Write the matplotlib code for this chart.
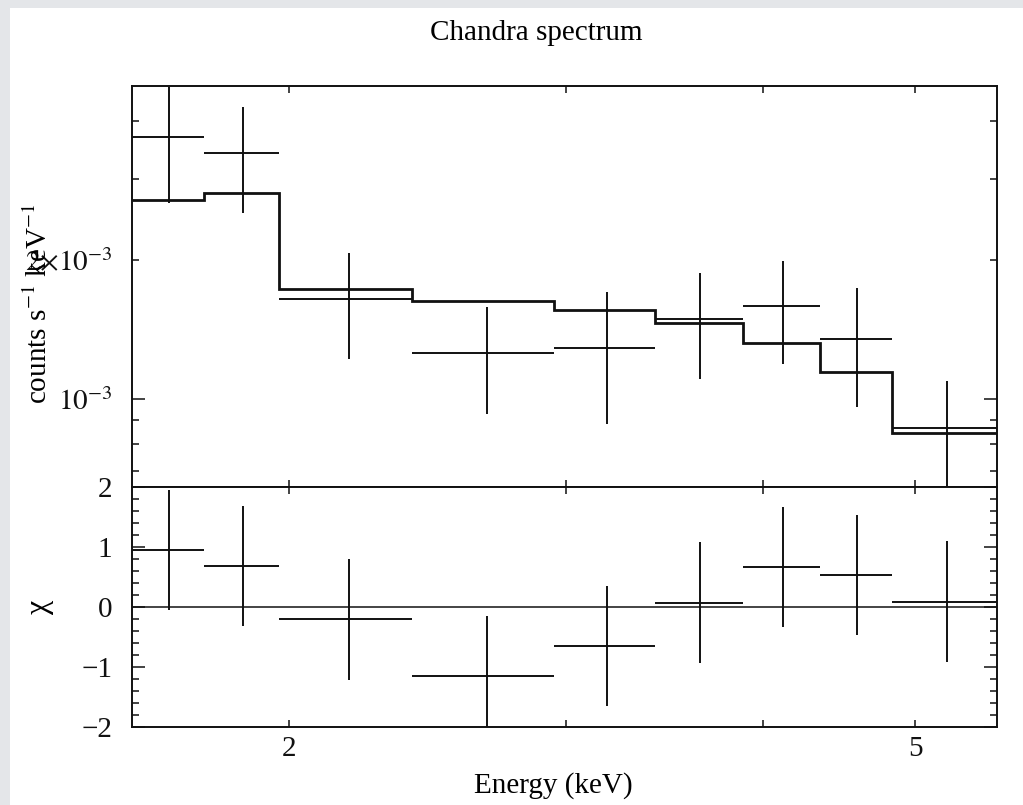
import numpy as np
import matplotlib
matplotlib.use('Agg')
import matplotlib.pyplot as plt
from matplotlib.patches import Rectangle
from matplotlib.ticker import FixedLocator, FixedFormatter, NullLocator

# Spectral bins (keV), grouped counts spectrum and folded model
bin_edges = [1.590, 1.767, 1.972, 2.395, 2.949, 3.418, 3.884, 4.353, 4.836, 5.636]
rate = [3.706, 3.411, 1.649, 1.258, 1.294, 1.492, 1.592, 1.351, 0.868]      # 1e-3 counts/s/keV
rate_err = [1.048, 0.880, 0.428, 0.327, 0.410, 0.387, 0.400, 0.387, 0.226]  # 1e-3
model = [2.702, 2.802, 1.736, 1.633, 1.559, 1.463, 1.324, 1.146, 0.847]     # 1e-3
chi = [0.951, 0.686, -0.204, -1.150, -0.641, 0.078, 0.669, 0.531, 0.093]
chi_err = [1, 1, 1, 1, 1, 1, 1, 1, 1]

x_ticks = [2, 3, 4, 5]
x_ticklabels = ['2', '', '', '5']

plt.rcParams['font.family'] = ['Liberation Serif', 'DejaVu Serif']
plt.rcParams['mathtext.fontset'] = 'stix'

FS = 21
LC = '#111111'

edges = np.array(bin_edges)
centers = 0.5 * (edges[:-1] + edges[1:])
halfw = 0.5 * (edges[1:] - edges[:-1])
scale = 1e-3

fig = plt.figure(figsize=(10.23, 8.05), dpi=100, facecolor='#e4e6e9')
fig.patches.append(Rectangle((10 / 1023, 0), 1, 1 - 8 / 805, transform=fig.transFigure,
                             facecolor='white', edgecolor='none', zorder=-10))

ax1 = fig.add_axes([0.1290, 0.3950, 0.8456, 0.4982])
ax2 = fig.add_axes([0.1290, 0.0963, 0.8456, 0.2988], sharex=ax1)

# upper panel: data with model histogram
ax1.errorbar(centers, np.array(rate) * scale, xerr=halfw, yerr=np.array(rate_err) * scale,
             fmt='none', ecolor=LC, elinewidth=1.4, capsize=0)
ax1.stairs(np.array(model) * scale, edges, baseline=None, color=LC, linewidth=2.0)
ax1.set_yscale('log')
ax1.set_ylim(0.6457e-3, 4.771e-3)

# lower panel: residuals
ax2.errorbar(centers, chi, xerr=halfw, yerr=chi_err, fmt='none', ecolor=LC,
             elinewidth=1.4, capsize=0)
ax2.axhline(0, color=LC, linewidth=1.1)
ax2.set_ylim(-2, 2)

ax2.set_xscale('log')
ax2.set_xlim(edges[0], edges[-1])
ax2.xaxis.set_major_locator(FixedLocator(x_ticks))
ax2.xaxis.set_major_formatter(FixedFormatter(x_ticklabels))
ax2.xaxis.set_minor_locator(NullLocator())

ax1.yaxis.set_major_locator(FixedLocator([1e-3]))
ax1.yaxis.set_major_formatter(FixedFormatter([r'$10^{-3}$']))
ax1.yaxis.set_minor_locator(FixedLocator([7e-4, 8e-4, 9e-4, 2e-3, 3e-3, 4e-3]))
ax1.yaxis.set_minor_formatter(FixedFormatter(['', '', '', r'$2{\times}10^{-3}$', '', '']))

ax2.yaxis.set_major_locator(FixedLocator([-2, -1, 0, 1, 2]))
ax2.yaxis.set_major_formatter(FixedFormatter(['\u22122', '\u22121', '0', '1', '2']))
ax2.yaxis.set_minor_locator(FixedLocator(np.arange(-1.8, 2.0, 0.2)))

for ax in (ax1, ax2):
    ax.tick_params(axis='both', which='both', direction='in', top=True, right=True,
                   colors=LC, labelsize=FS, width=1.1)
    ax.tick_params(axis='y', which='major', length=9.5, pad=14)
    ax.tick_params(axis='y', which='minor', length=4.8, pad=14)
    ax.tick_params(axis='x', which='major', length=5, pad=6)
    for s in ax.spines.values():
        s.set_linewidth(1.4)
        s.set_color(LC)

ax1.tick_params(axis='x', labelbottom=False)

ax1.set_ylabel(r'counts s$^{-1}$ keV$^{-1}$', fontsize=FS)
ax1.yaxis.set_label_coords(-0.091, 0.457)
ax2.set_ylabel('\u03c7', fontsize=FS + 2)
ax2.yaxis.set_label_coords(-0.090, 0.50)

fig.text(536 / 1023, 1 - 40 / 805, 'Chandra spectrum', ha='center', va='baseline', fontsize=FS)
fig.text(553 / 1023, 1 - 793 / 805, 'Energy (keV)', ha='center', va='baseline', fontsize=FS)

fig.savefig('out.png', dpi=100, facecolor=fig.get_facecolor())
